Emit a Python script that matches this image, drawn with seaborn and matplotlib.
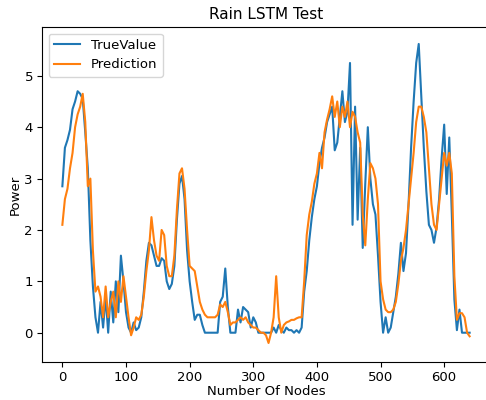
import numpy as np
import pandas as pd
import matplotlib
matplotlib.use("Agg")
import matplotlib.pyplot as plt
import seaborn as sns

nodes = list(range(0, 641, 4))

true_value = [
    2.85, 3.6, 3.75, 3.95, 4.35, 4.5, 4.7, 4.65, 4.55, 3.9,
    3.2, 1.8, 0.9, 0.3, 0.0, 0.6, 0.1, 0.7, 0.0, 0.8,
    0.2, 1.0, 0.4, 1.5, 1.0, 0.4, 0.1, 0.0, 0.2, 0.05,
    0.1, 0.3, 0.8, 1.4, 1.75, 1.7, 1.5, 1.3, 1.3, 1.45,
    1.4, 1.0, 0.85, 0.95, 1.3, 2.2, 2.9, 3.05, 2.6, 1.6,
    1.0, 0.6, 0.25, 0.35, 0.35, 0.15, 0.0, 0.0, 0.0, 0.0,
    0.0, 0.0, 0.6, 0.7, 1.25, 0.5, 0.0, 0.0, 0.0, 0.45,
    0.2, 0.5, 0.45, 0.4, 0.1, 0.3, 0.2, 0.0, 0.0, 0.0,
    0.0, 0.0, 0.0, 0.1, 0.0, 0.15, 0.05, 0.0, 0.1, 0.05,
    0.05, 0.0, 0.05, 0.0, 0.1, 0.8, 1.2, 1.8, 2.25, 2.6,
    2.85, 3.3, 3.6, 3.8, 4.1, 4.25, 4.4, 3.55, 3.7, 4.2,
    4.7, 4.1, 4.3, 5.25, 2.1, 4.4, 2.2, 3.6, 1.65, 2.9,
    4.0, 3.0, 2.5, 2.3, 1.5, 0.6, 0.0, 0.3, 0.0, 0.1,
    0.4, 0.7, 1.15, 1.75, 1.2, 1.55, 2.5, 3.6, 4.5, 5.25,
    5.62, 4.6, 3.6, 2.75, 2.1, 2.0, 1.75, 2.05, 2.6, 3.4,
    4.05, 2.7, 3.8, 2.3, 0.65, 0.05, 0.45, 0.0, 0.0, 0.0,
    0.0,
]

prediction = [
    2.1, 2.6, 2.8, 3.2, 3.5, 4.0, 4.25, 4.4, 4.65, 4.1,
    2.85, 3.0, 1.6, 0.8, 0.9, 0.7, 0.3, 0.9, 0.3, 0.6,
    0.8, 0.3, 1.0, 0.6, 1.1, 0.7, 0.3, -0.05, 0.1, 0.3,
    0.25, 0.35, 0.7, 1.2, 1.6, 2.25, 1.8, 1.5, 1.4, 2.0,
    1.9, 1.3, 1.1, 1.1, 1.5, 2.4, 3.1, 3.2, 2.8, 2.0,
    1.3, 1.25, 1.2, 0.9, 0.6, 0.45, 0.35, 0.3, 0.3, 0.3,
    0.3, 0.35, 0.55, 0.5, 0.6, 0.4, 0.15, 0.2, 0.2, 0.25,
    0.3, 0.25, 0.3, 0.2, 0.15, 0.1, 0.1, 0.05, 0.0, 0.0,
    -0.05, -0.2, 0.0, 0.3, 1.1, 0.3, 0.0, 0.15, 0.2, 0.22,
    0.25, 0.25, 0.28, 0.3, 0.3, 1.0, 1.9, 2.3, 2.55, 2.9,
    3.1, 3.5, 3.2, 3.9, 4.15, 4.35, 4.6, 4.2, 4.5, 4.0,
    4.4, 4.2, 4.5, 4.0, 4.3, 4.2, 3.9, 3.7, 2.3, 1.7,
    2.6, 3.3, 3.2, 3.0, 2.5, 1.0, 0.65, 0.45, 0.4, 0.4,
    0.45, 0.6, 0.95, 1.4, 1.65, 2.0, 2.5, 3.0, 3.5, 4.1,
    4.4, 4.4, 4.2, 3.9, 3.2, 2.5, 2.1, 2.0, 2.5, 3.0,
    3.5, 3.25, 3.5, 3.1, 1.1, 0.25, 0.38, 0.38, 0.3, 0.0,
    -0.07,
]

series_names = ["TrueValue", "Prediction"]

df = pd.concat([
    pd.DataFrame({"node": nodes, "power": true_value, "series": series_names[0]}),
    pd.DataFrame({"node": nodes, "power": prediction, "series": series_names[1]}),
], ignore_index=True)

fig = plt.figure(figsize=(4.86, 4.0), dpi=100)
ax = fig.add_axes([42 / 486, 38 / 400, 448 / 486, 335 / 400])

sns.lineplot(data=df, x="node", y="power", hue="series", estimator=None,
             palette=["#1f77b4", "#ff7f0e"], linewidth=1.5, ax=ax)

ax.set_ylim(-0.57, 5.95)
ax.set_xlim(-32, 672)
ax.tick_params(labelsize=9.5, pad=3)
ax.set_title("Rain LSTM Test", fontsize=11)
ax.set_xlabel("Number Of Nodes", fontsize=9.5, labelpad=1)
ax.set_ylabel("Power", fontsize=9.5, labelpad=2)
ax.legend(loc="upper left", fontsize=9.5)

fig.savefig("out.png", dpi=100)
